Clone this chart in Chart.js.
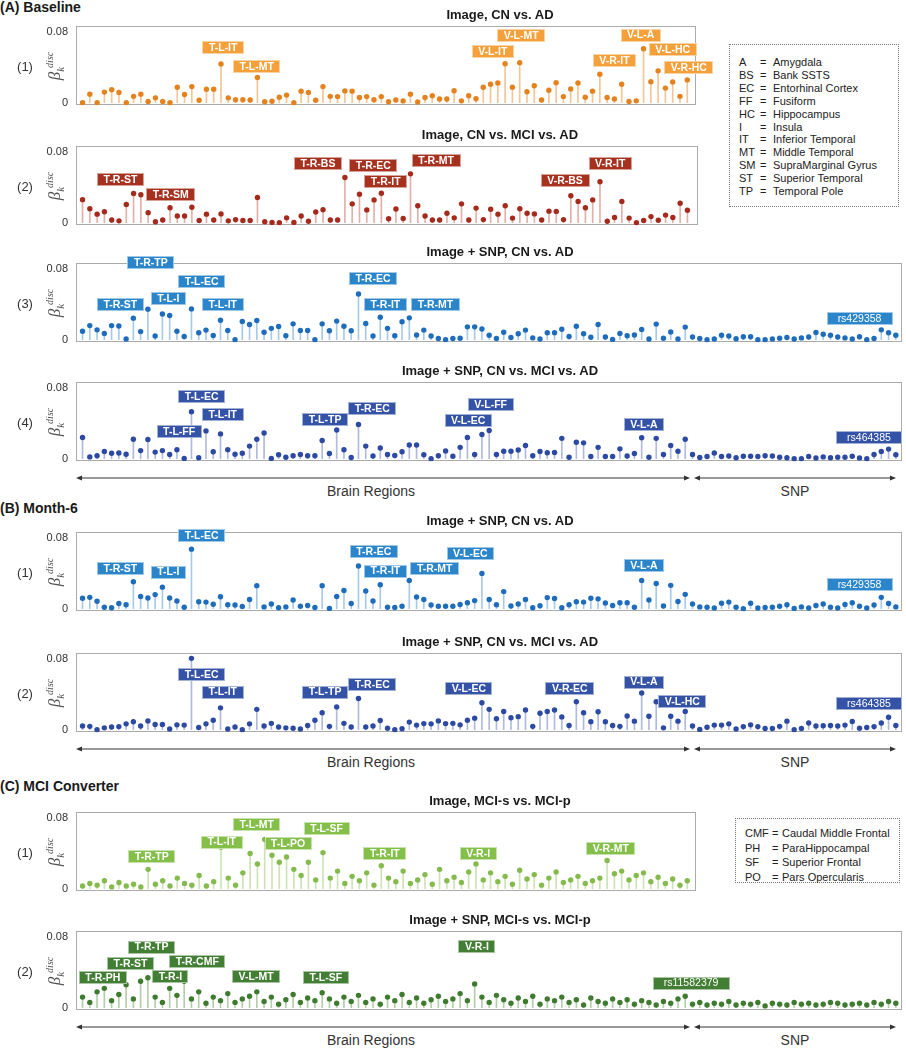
<!DOCTYPE html>
<html>
<head>
<meta charset="utf-8">
<script src="https://cdn.jsdelivr.net/npm/chart.js@4.4.1/dist/chart.umd.min.js"></script>
<style>
body { margin:0; background:#fff; font-family:"Liberation Sans", Arial, sans-serif; color:#1a1a1a; }
#page { position:relative; width:906px; height:1050px; overflow:hidden; }
canvas { position:absolute; left:0; }
.t { position:absolute; white-space:nowrap; transform:translate(-50%,-50%); line-height:1; }
.sec { position:absolute; left:0; font-weight:bold; font-size:14px; line-height:1; transform:translateY(-50%); }
.title { font-weight:bold; font-size:13px; }
.num { font-size:13px; color:#333; }
.axis { font-size:14px; color:#333; }
.beta { font-family:"Liberation Serif", serif; font-style:italic; color:#555; font-size:17px;
        transform:translate(-50%,-50%) rotate(-90deg); }
.beta .k { font-size:11px; position:relative; top:4px; }
.beta .d { font-size:10px; position:relative; top:-7px; margin-left:-1px; }
.legend { position:absolute; border:1px dotted #777; font-size:11px; color:#222; line-height:12.9px; }
.legend span { display:inline-block; }
.legend .ab { width:21px; }
.legend .eq { width:13px; }
.legend2 .ab { width:27px; }
.legend2 .eq { width:10px; }
</style>
</head>
<body>
<div id="page">
  <div class="sec" style="top:7px">(A) Baseline</div>
  <div class="sec" style="top:508px">(B) Month-6</div>
  <div class="sec" style="top:786px">(C) MCI Converter</div>

  <div class="legend" style="left:729px;top:44px;width:170px;height:163px;padding:11px 0 0 9px;box-sizing:border-box">
    <div><span class="ab">A</span><span class="eq">=</span>Amygdala</div>
    <div><span class="ab">BS</span><span class="eq">=</span>Bank SSTS</div>
    <div><span class="ab">EC</span><span class="eq">=</span>Entorhinal Cortex</div>
    <div><span class="ab">FF</span><span class="eq">=</span>Fusiform</div>
    <div><span class="ab">HC</span><span class="eq">=</span>Hippocampus</div>
    <div><span class="ab">I</span><span class="eq">=</span>Insula</div>
    <div><span class="ab">IT</span><span class="eq">=</span>Inferior Temporal</div>
    <div><span class="ab">MT</span><span class="eq">=</span>Middle Temporal</div>
    <div><span class="ab">SM</span><span class="eq">=</span>SupraMarginal Gyrus</div>
    <div><span class="ab">ST</span><span class="eq">=</span>Superior Temporal</div>
    <div><span class="ab">TP</span><span class="eq">=</span>Temporal Pole</div>
  </div>
  <div class="legend legend2" style="left:735px;top:818px;width:165px;height:65px;padding:7px 0 0 9px;box-sizing:border-box;line-height:14.6px">
    <div><span class="ab">CMF</span><span class="eq">=</span>Caudal Middle Frontal</div>
    <div><span class="ab">PH</span><span class="eq">=</span>ParaHippocampal</div>
    <div><span class="ab">SF</span><span class="eq">=</span>Superior Frontal</div>
    <div><span class="ab">PO</span><span class="eq">=</span>Pars Opercularis</div>
  </div>
</div>
<script>
// feature counts (x = feature index)
const nBrain = 84;
const nSnp = 29;
const yTicks = [0, 0.08];

// (A) Baseline
const a1Values = [
  0, 0.0097, 0, 0.012, 0.0148, 0.0117, 0, 0.0072, 0.0097, 0.0014,
  0.0055, 0.0014, 0, 0.0176, 0.0093, 0.0183, 0.0028, 0.0152, 0.0152, 0.0441,
  0.0055, 0.0034, 0.0034, 0.0031, 0.0286, 0.001, 0.0017, 0.0062, 0.0086, 0,
  0.0131, 0.0117, 0.0028, 0.0183, 0.0072, 0.0069, 0.0134, 0.0131, 0.0059, 0.0069,
  0.0034, 0.0069, 0.001, 0.0031, 0.002, 0.0097, 0.0007, 0.0059, 0.0079, 0.0041,
  0.0041, 0.0135, 0.0021, 0.0079, 0.0045, 0.0176, 0.021, 0.0224, 0.0442, 0.0176,
  0.0455, 0.0124, 0.0193, 0.0031, 0.0141, 0.0228, 0.0069, 0.0155, 0.0224, 0.0062,
  0.0131, 0.0324, 0.0059, 0.0041, 0.021, 0.0014, 0.0021, 0.0614, 0.0238, 0.0362,
  0.0166, 0.0235, 0.0072, 0.0259
];
const a1Tags = [[19.3,0.0624,'T-L-IT'],[23.9,0.0414,'T-L-MT'],[56.3,0.058,'V-L-IT'],[60.2,0.0763,'V-L-MT'],
  [73.0,0.0476,'V-R-IT'],[76.6,0.0769,'V-L-A'],[81.0,0.0608,'V-L-HC'],[83.2,0.040,'V-R-HC']];

const a2Values = [
  0.0262, 0.0159, 0.0097, 0.0124, 0.0031, 0.0021, 0.0207, 0.0331, 0.0317, 0.0114,
  0.001, 0.0031, 0.0169, 0.0076, 0.0076, 0.0176, 0.0024, 0.0097, 0.0031, 0.010,
  0.0021, 0.0035, 0.0024, 0.0024, 0.0286, 0.001, 0.0003, 0, 0.0055, 0.0003,
  0.0076, 0.0017, 0.0121, 0.0148, 0.0031, 0.0031, 0.0514, 0.0214, 0.0324, 0.0145,
  0.0259, 0.0335, 0.0045, 0.0155, 0.0048, 0.0555, 0.0193, 0.0076, 0.0031, 0.0031,
  0.0107, 0.0055, 0.0214, 0.0031, 0.0166, 0.0035, 0.0152, 0.0097, 0.0193, 0.0052,
  0.0159, 0.0107, 0.010, 0.0031, 0.0131, 0.0128, 0.0035, 0.0307, 0.0242, 0.0169,
  0.0259, 0.0466, 0.0017, 0.0059, 0.0242, 0.0052, 0, 0.0024, 0.0069, 0.0028,
  0.0086, 0.0059, 0.0221, 0.0141
];
const a2Tags = [[5.2,0.049,'T-R-ST'],[12.1,0.0324,'T-R-SM'],[32.3,0.0669,'T-R-BS'],[39.9,0.0645,'T-R-EC'],
  [41.6,0.0466,'T-R-IT'],[48.5,0.0704,'T-R-MT'],[66.2,0.0476,'V-R-BS'],[72.4,0.067,'V-R-IT']];

const a3Values = [
  0.0095, 0.016, 0.0112, 0.0071, 0.016, 0.0156, 0.0007, 0.0245, 0.0092, 0.0347,
  0.0041, 0.0292, 0.0275, 0.0095, 0.0037, 0.035, 0.0078, 0.0109, 0.0048, 0.0221,
  0.0105, 0, 0.0207, 0.0173, 0.0218, 0.0085, 0.0129, 0.015, 0.0044, 0.018,
  0.0105, 0.0105, 0, 0.018, 0.0102, 0.0211, 0.0153, 0.0102, 0.052, 0.0184,
  0.0041, 0.0255, 0.0129, 0.0044, 0.0204, 0.0248, 0.0054, 0.0109, 0.0041, 0.0014,
  0, 0.0014, 0.0017, 0.0146, 0.0146, 0.0122, 0.0051, 0.0014, 0.0085, 0.0024,
  0.0068, 0.0109, 0.002, 0.0007, 0.0078, 0.0078, 0.0119, 0.0037, 0.0153, 0.0068,
  0.0027, 0.0173, 0.0031, 0.0003, 0.0071, 0.0044, 0.0054, 0.0116, 0.0007, 0.0177,
  0.0017, 0.0088, 0.0007, 0.0143, 0.0031, 0.0014, 0, 0.0007, 0.0051, 0.0041,
  0.001, 0.0034, 0.0034, 0, 0, 0.0007, 0.0017, 0.0024, 0.0007, 0.002,
  0.0031, 0.0082, 0.0061, 0.0051, 0.0031, 0.002, 0.0007, 0.0034, 0, 0.0014,
  0.0112, 0.0078, 0.0051
];
const a3Tags = [[9.4,0.0877,'T-R-TP'],[5.2,0.0404,'T-R-ST'],[11.8,0.0463,'T-L-I'],[16.4,0.0663,'T-L-EC'],
  [19.3,0.0404,'T-L-IT'],[40.0,0.0697,'T-R-EC'],[41.7,0.0404,'T-R-IT'],[48.6,0.0404,'T-R-MT'],[107.0,0.0238,'rs429358']];

const a4Values = [
  0.0241, 0.002, 0.0034, 0.0082, 0.0061, 0.0065, 0.0051, 0.0221, 0.0092, 0.0218,
  0.0075, 0.0092, 0.0048, 0.0102, 0.0003, 0.0534, 0.001, 0.0316, 0.0078, 0.0282,
  0.0102, 0.0051, 0.0061, 0.0143, 0.0221, 0.0292, 0.0003, 0.0044, 0.0017, 0.0034,
  0.0048, 0.0034, 0.0034, 0.0207, 0.0058, 0.0326, 0.0102, 0.0014, 0.0388, 0.0143,
  0.0031, 0.0122, 0.0048, 0.0037, 0.0078, 0.0156, 0.0156, 0.0044, 0, 0.0034,
  0.0088, 0.0027, 0.0129, 0.0241, 0.0048, 0.0275, 0.032, 0.0048, 0.0085, 0.0085,
  0.0099, 0.015, 0.0034, 0.0082, 0.0068, 0.0071, 0.0231, 0.0017, 0.0187, 0.018,
  0.0024, 0.0129, 0.0024, 0.0024, 0.0112, 0.0031, 0.0058, 0.0238, 0.0017, 0.0231,
  0.0048, 0.015, 0.0085, 0.0221, 0.0048, 0.0014, 0.0024, 0.0065, 0.0024, 0.0031,
  0.001, 0.0027, 0.0027, 0.0024, 0.0034, 0.0031, 0.0017, 0.001, 0, 0,
  0.0024, 0.0007, 0.002, 0.001, 0.0017, 0.0017, 0.0027, 0.0007, 0, 0.0048,
  0.0082, 0.0109, 0.0044
];
const a4Tags = [[16.4,0.0707,'T-L-EC'],[19.3,0.050,'T-L-IT'],[13.3,0.031,'T-L-FF'],[33.4,0.0448,'T-L-TP'],
  [39.9,0.0565,'T-R-EC'],[53.1,0.043,'V-L-EC'],[56.2,0.0617,'V-L-FF'],[77.3,0.0393,'V-L-A'],[108.3,0.0241,'rs464385']];

// (B) Month-6
const b1Values = [
  0.0119, 0.0129, 0.0085, 0.0017, 0.001, 0.0058, 0.0044, 0.0306, 0.0139, 0.0122,
  0.016, 0.0245, 0.0122, 0.0088, 0.0017, 0.0677, 0.0078, 0.0075, 0.0051, 0.0136,
  0.0044, 0.0041, 0.0024, 0.0105, 0.0262, 0.002, 0.0054, 0.001, 0.002, 0.0099,
  0.0027, 0.0037, 0.0014, 0.0262, 0.0003, 0.0139, 0.0207, 0.0058, 0.0486, 0.0201,
  0.0088, 0.0272, 0.0017, 0.0014, 0.0027, 0.032, 0.0133, 0.0105, 0.0041, 0.0027,
  0.0027, 0.0027, 0.0048, 0.0068, 0.0092, 0.0401, 0.0105, 0.0044, 0.0194, 0.0031,
  0.0054, 0.0105, 0.001, 0.0034, 0.0126, 0.0116, 0.001, 0.0044, 0.0078, 0.0075,
  0.0119, 0.0112, 0.0065, 0.0037, 0.0068, 0.0068, 0.0017, 0.032, 0.0099, 0.0286,
  0.0031, 0.0265, 0.0082, 0.0163, 0.0054, 0.002, 0.0017, 0.0007, 0.0061, 0.0075,
  0.0017, 0, 0.0061, 0.0007, 0.0014, 0.0017, 0.0027, 0.0044, 0.0003, 0.002,
  0.0007, 0.0037, 0.0054, 0.0017, 0.0007, 0.0048, 0.0068, 0.0027, 0.0007, 0.0041,
  0.0129, 0.0058, 0.002
];
const b1Tags = [[5.2,0.0459,'T-R-ST'],[11.8,0.0417,'T-L-I'],[16.4,0.0835,'T-L-EC'],[40.1,0.0652,'T-R-EC'],
  [41.7,0.0428,'T-R-IT'],[48.5,0.0455,'T-R-MT'],[53.4,0.063,'V-L-EC'],[77.3,0.0494,'V-L-A'],[107.0,0.0274,'rs429358']];

const b2Values = [
  0.0041, 0.0038, 0, 0.0021, 0.0031, 0.0035, 0.0066, 0.009, 0.0041, 0.01,
  0.0059, 0.0059, 0.0007, 0.0055, 0.0052, 0.0811, 0.0024, 0.0066, 0.0107, 0.0248,
  0.0007, 0.0031, 0, 0.0066, 0.0231, 0.0041, 0.0072, 0.0031, 0.0021, 0.0017,
  0.0007, 0.0048, 0.0107, 0.0193, 0.0038, 0.0259, 0.0072, 0.0031, 0.0355, 0.0031,
  0.0041, 0.0104, 0.0017, 0, 0.001, 0.0086, 0.0052, 0.0069, 0.0066, 0.01,
  0.0069, 0.0072, 0.0055, 0.0107, 0.0131, 0.0307, 0.0231, 0.0124, 0.0207, 0.0135,
  0.0148, 0.0224, 0.0038, 0.0186, 0.0207, 0.0224, 0.0145, 0.0048, 0.0317, 0.0193,
  0.009, 0.0204, 0.009, 0.0048, 0.0038, 0.0155, 0.0097, 0.0417, 0.0152, 0.0317,
  0.0021, 0.0152, 0.0097, 0.0207, 0.0041, 0.0003, 0.0028, 0.0052, 0.0052, 0.0066,
  0.0007, 0.0035, 0.0055, 0.0035, 0.0014, 0.0014, 0.0038, 0.0097, 0, 0.0014,
  0.0076, 0.0041, 0.0045, 0.0048, 0.0041, 0.0052, 0.0093, 0.0017, 0.0024, 0.0035,
  0.0076, 0.0141, 0.0048
];
const b2Tags = [[16.4,0.0629,'T-L-EC'],[19.3,0.0428,'T-L-IT'],[33.4,0.0428,'T-L-TP'],[39.9,0.0518,'T-R-EC'],
  [53.2,0.0466,'V-L-EC'],[67.1,0.0466,'V-R-EC'],[77.3,0.0541,'V-L-A'],[82.6,0.0323,'V-L-HC'],[108.3,0.0302,'rs464385']];

// (C) MCI Converter
const c1Values = [
  0.003, 0.006, 0.004, 0.009, 0.002, 0.007, 0.003, 0.005, 0.002, 0.022,
  0.005, 0.009, 0.003, 0.012, 0.006, 0.004, 0.015, 0.003, 0.008, 0.047,
  0.012, 0.004, 0.018, 0.040, 0.028, 0.056, 0.038, 0.030, 0.036, 0.022,
  0.015, 0.030, 0.010, 0.041, 0.012, 0.020, 0.006, 0.014, 0.009, 0.018,
  0.004, 0.026, 0.012, 0.008, 0.020, 0.006, 0.010, 0.016, 0.005, 0.022,
  0.009, 0.013, 0.007, 0.019, 0.028, 0.010, 0.018, 0.008, 0.014, 0.005,
  0.021, 0.011, 0.016, 0.004, 0.012, 0.019, 0.007, 0.010, 0.014, 0.006,
  0.009, 0.012, 0.032, 0.017, 0.020, 0.010, 0.015, 0.018, 0.008, 0.013,
  0.006, 0.011, 0.004, 0.009
];
const c1Tags = [[9.5,0.037,'T-R-TP'],[19.1,0.053,'T-L-IT'],[23.9,0.073,'T-L-MT'],[28.2,0.051,'T-L-PO'],
  [33.5,0.068,'T-L-SF'],[41.5,0.040,'T-R-IT'],[54.3,0.040,'V-R-I'],[72.5,0.046,'V-R-MT']];

const c2Values = [
  0.012, 0.006, 0.018, 0.022, 0.008, 0.015, 0.026, 0.010, 0.030, 0.034,
  0.012, 0.006, 0.022, 0.014, 0.030, 0.010, 0.018, 0.005, 0.012, 0.008,
  0.016, 0.006, 0.010, 0.013, 0.018, 0.007, 0.012, 0.004, 0.009, 0.015,
  0.006, 0.011, 0.008, 0.017, 0.010, 0.005, 0.012, 0.007, 0.014, 0.006,
  0.010, 0.004, 0.012, 0.008, 0.015, 0.006, 0.011, 0.005, 0.009, 0.013,
  0.007, 0.010, 0.016, 0.008, 0.027, 0.012, 0.006, 0.014, 0.009, 0.005,
  0.011, 0.007, 0.013, 0.004, 0.010, 0.008, 0.012, 0.006, 0.009, 0.003,
  0.011, 0.007, 0.005, 0.010, 0.006, 0.009, 0.004, 0.008, 0.006, 0.003,
  0.007, 0.005, 0.010, 0.013, 0.004, 0.006, 0.003, 0.005, 0.004, 0.007,
  0.003, 0.005, 0.004, 0.006, 0.002, 0.005, 0.004, 0.003, 0.006, 0.004,
  0.005, 0.003, 0.004, 0.006, 0.005, 0.003, 0.004, 0.005, 0.003, 0.006,
  0.004, 0.007, 0.005
];
const c2Tags = [[2.8,0.034,'T-R-PH'],[6.6,0.050,'T-R-ST'],[9.5,0.069,'T-R-TP'],[12.1,0.035,'T-R-I'],
  [15.8,0.052,'T-R-CMF'],[23.9,0.035,'V-L-MT'],[33.5,0.034,'T-L-SF'],[54.3,0.070,'V-R-I'],[83.8,0.028,'rs11582379']];

// colours: dot, stem, tag fill
const palettes = {
  orange: { dot:'#e5821e', stem:'#f3c597', tag:'#f5a03a' },
  red:    { dot:'#a52a1c', stem:'#e3b0a9', tag:'#a6311f' },
  blue:   { dot:'#1e6dbd', stem:'#a9c9e8', tag:'#2b85ca' },
  indigo: { dot:'#2c4aa3', stem:'#b0badf', tag:'#3553a6' },
  lgreen: { dot:'#84bb4c', stem:'#cde3b6', tag:'#84bf4a' },
  dgreen: { dot:'#3e7b2f', stem:'#b4ceaa', tag:'#427e33' }
};

const panels = [
  { values:a1Values, tags:a1Tags, pal:'orange', top:26,  right:696, xMax:84.2,  title:'Image, CN vs. AD', num:'(1)' },
  { values:a2Values, tags:a2Tags, pal:'red',    top:146, right:698, xMax:84.45, title:'Image, CN vs. MCI vs. AD', num:'(2)' },
  { values:a3Values, tags:a3Tags, pal:'blue',   top:263, right:905, xMax:112.85, title:'Image + SNP, CN vs. AD', num:'(3)' },
  { values:a4Values, tags:a4Tags, pal:'indigo', top:382, right:905, xMax:112.85, title:'Image + SNP, CN vs. MCI vs. AD', num:'(4)', axis:true },
  { values:b1Values, tags:b1Tags, pal:'blue',   top:532, right:905, xMax:112.85, title:'Image + SNP, CN vs. AD', num:'(1)' },
  { values:b2Values, tags:b2Tags, pal:'indigo', top:653, right:905, xMax:112.85, title:'Image + SNP, CN vs. MCI vs. AD', num:'(2)', axis:true },
  { values:c1Values, tags:c1Tags, pal:'lgreen', top:812, right:696, xMax:84.2,  title:'Image, MCI-s vs. MCI-p', num:'(1)' },
  { values:c2Values, tags:c2Tags, pal:'dgreen', top:931, right:905, xMax:112.85, title:'Image + SNP, MCI-s vs. MCI-p', num:'(2)', axis:true }
];

const PAD_T = 20, PAD_B = 6, BOX_H = 88;
const page = document.getElementById('page');
const FONT = '"Liberation Sans", Arial, sans-serif';

// axis frame
const framePlugin = {
  id: 'frame',
  beforeDatasetsDraw(chart) {
    const { ctx, chartArea: a } = chart;
    ctx.save();
    ctx.strokeStyle = '#ababab';
    ctx.lineWidth = 1;
    ctx.strokeRect(Math.round(a.left) + 0.5, Math.round(a.top) + 0.5, Math.round(a.width) - 1, Math.round(a.height) - 1);
    ctx.restore();
  }
};

// feature name tags
const tagPlugin = {
  id: 'tags',
  afterDatasetsDraw(chart, args, opts) {
    const { ctx, scales: { x, y } } = chart;
    ctx.save();
    opts.items.forEach(([xi, yv, text]) => {
      const rs = text.startsWith('rs');
      ctx.font = (rs ? '' : 'bold ') + '10.5px ' + FONT;
      const w = Math.round(ctx.measureText(text).width + (rs ? 22 : 13));
      const h = 13;
      const cx = x.getPixelForValue(xi), cy = y.getPixelForValue(yv);
      const l = Math.round(cx - w / 2), t = Math.round(cy - h / 2);
      ctx.fillStyle = opts.fill;
      ctx.fillRect(l, t, w, h);
      ctx.strokeStyle = 'rgba(255,255,255,0.55)';
      ctx.strokeRect(l + 0.5, t + 0.5, w - 1, h - 1);
      ctx.fillStyle = '#fff';
      ctx.textAlign = 'center';
      ctx.textBaseline = 'middle';
      ctx.fillText(text, cx, cy + 0.5);
    });
    ctx.restore();
  }
};

function addText(cls, html, x, y) {
  const d = document.createElement('div');
  d.className = 't ' + cls;
  d.innerHTML = html;
  d.style.left = x + 'px';
  d.style.top = y + 'px';
  page.appendChild(d);
}

panels.forEach(p => {
  const c = palettes[p.pal];
  const cv = document.createElement('canvas');
  cv.width = 906;
  cv.height = PAD_T + BOX_H + PAD_B;
  cv.style.top = (p.top - PAD_T) + 'px';
  page.appendChild(cv);

  const pts = p.values.map((v, i) => ({ x: i, y: v }));
  new Chart(cv.getContext('2d'), {
    type: 'scatter',
    data: { datasets: [
      { type:'bar', data: pts, backgroundColor: c.stem, barThickness: 1, order: 2 },
      { type:'scatter', data: pts, pointRadius: 2.7, pointBackgroundColor: c.dot, pointBorderWidth: 0, order: 1 }
    ]},
    options: {
      responsive: false, animation: false, devicePixelRatio: 1,
      layout: { padding: { top: PAD_T, right: 906 - p.right, bottom: PAD_B, left: 0 } },
      plugins: { legend: { display:false }, tooltip: { enabled:false }, tags: { items: p.tags, fill: c.tag } },
      scales: {
        x: { type:'linear', min: -0.9, max: p.xMax, offset:false, display:false },
        y: {
          min: -0.0031, max: 0.0872,
          grid: { display:false, drawTicks:false },
          border: { display:false },
          afterBuildTicks: s => { s.ticks = yTicks.map(v => ({ value: v })); },
          afterFit: s => { s.width = 76; },
          ticks: { padding: 8, color:'#333', font: { family: FONT, size: 11 }, callback: v => String(v) }
        }
      }
    },
    plugins: [framePlugin, tagPlugin]
  });

  addText('title', p.title, 500, p.top - 12);
  addText('num', p.num, 25, p.top + 40);
  addText('beta', '<span>β</span><span class="k">k</span><span class="d">disc</span>', 54, p.top + 40);
  if (p.axis) {
    const ay = p.top + BOX_H + 8;
    addText('axis', 'Brain Regions', 371, ay + 13);
    addText('axis', 'SNP', 795, ay + 13);
    const svg = document.createElementNS('http://www.w3.org/2000/svg', 'svg');
    svg.setAttribute('width', 906); svg.setAttribute('height', 10);
    svg.style.position = 'absolute'; svg.style.left = '0px'; svg.style.top = (ay - 5) + 'px';
    const seg = (x1, x2) =>
      `<line x1="${x1 + 4}" y1="5" x2="${x2 - 4}" y2="5" stroke="#333" stroke-width="1.2"/>` +
      `<polygon points="${x1},5 ${x1 + 6},2.6 ${x1 + 6},7.4" fill="#333"/>` +
      `<polygon points="${x2},5 ${x2 - 6},2.6 ${x2 - 6},7.4" fill="#333"/>`;
    svg.innerHTML = seg(76, 690) + seg(694, 896);
    page.appendChild(svg);
  }
});
</script>
</body>
</html>
